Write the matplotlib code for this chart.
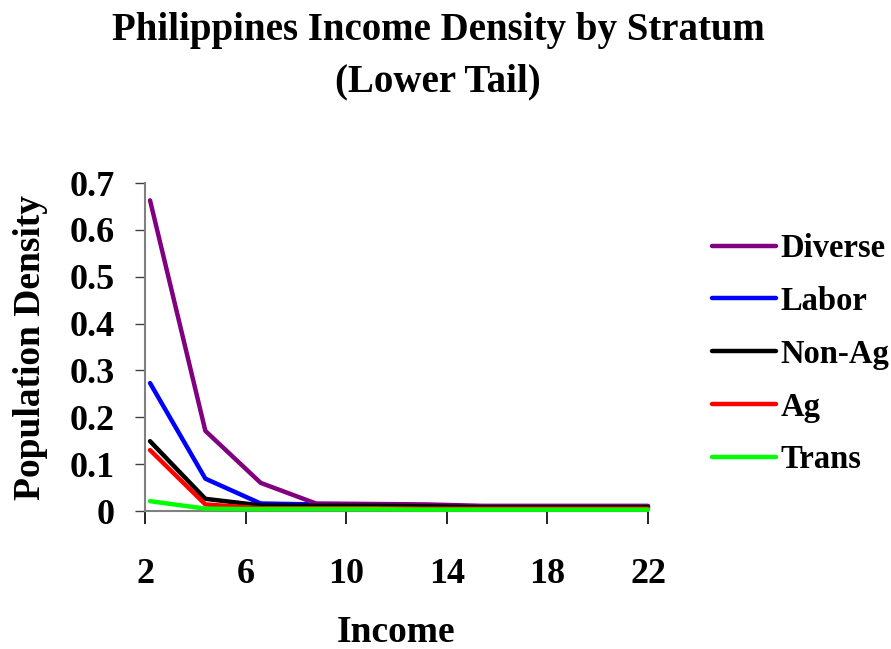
import numpy as np
import matplotlib
matplotlib.use('Agg')
import matplotlib.pyplot as plt

#%% Data

income = [2.2, 4.4, 6.6, 8.8, 11.0, 13.2, 15.4, 17.6, 19.8, 22.0]
diverse = [0.663, 0.171, 0.060, 0.016, 0.015, 0.014, 0.011, 0.011, 0.011, 0.011]
labor = [0.273, 0.069, 0.016, 0.014, 0.014, 0.012, 0.009, 0.009, 0.009, 0.009]
nonag = [0.149, 0.026, 0.012, 0.011, 0.011, 0.010, 0.008, 0.008, 0.008, 0.008]
ag = [0.130, 0.014, 0.006, 0.006, 0.006, 0.005, 0.005, 0.005, 0.005, 0.005]
trans = [0.021, 0.005, 0.004, 0.004, 0.004, 0.003, 0.003, 0.003, 0.003, 0.003]

labels = ['Diverse', 'Labor', 'Non-Ag', 'Ag', 'Trans']
colors = ['#800080', '#0000FF', '#000000', '#FF0000', '#00FF00']
xticks = [2, 6, 10, 14, 18, 22]
yticks = [0, 0.1, 0.2, 0.3, 0.4, 0.5, 0.6, 0.7]

#%% Plot

plt.rcParams['font.family'] = ['Liberation Serif', 'DejaVu Serif']
plt.rcParams['font.weight'] = 'bold'

fig = plt.figure(figsize=(8.91, 6.49), dpi=100)
ax = fig.add_axes([145/891, 1 - 511/649, (648 - 145)/891, (511 - 183)/649])

series = [diverse, labor, nonag, ag, trans]
zorders = [4, 3, 5, 6, 7]
for y, lab, c, z in zip(series, labels, colors, zorders):
    ax.plot(income, y, color=c, linewidth=3.2, label=lab, zorder=z,
            solid_capstyle='round', clip_on=False)

ax.set_xlim(2, 22)
ax.set_ylim(0, 0.7)
ax.set_xticks(xticks)
ax.set_yticks(yticks)
ax.set_yticklabels(['0'] + [f'{v:.1f}' for v in yticks[1:]])

for s in ['top', 'right']:
    ax.spines[s].set_visible(False)
for s in ['left', 'bottom']:
    ax.spines[s].set_color('#808080')
    ax.spines[s].set_linewidth(1.5)

ax.tick_params(axis='y', direction='out', length=7, width=1, color='#404040',
               labelsize=26, pad=15)
ax.tick_params(axis='x', direction='out', length=9, width=1.2, color='black',
               labelsize=26, pad=25)
for t in ax.get_xticklabels() + ax.get_yticklabels():
    t.set_fontweight('bold')

ax.set_xlabel('Income', fontsize=27, fontweight='bold', labelpad=17)
ax.set_ylabel('Population Density', fontsize=27, fontweight='bold', labelpad=15)

fig.text(0.492, 1 - 40/649, 'Philippines Income Density by Stratum',
         ha='center', va='baseline', fontsize=28, fontweight='bold')
fig.text(0.492, 1 - 91/649, '(Lower Tail)',
         ha='center', va='baseline', fontsize=28, fontweight='bold')

leg = ax.legend(loc='upper left', bbox_to_anchor=(712/891, 1 - 233/649),
                bbox_transform=fig.transFigure, frameon=False, fontsize=23.5,
                handlelength=1.95, handletextpad=0.15, labelspacing=0.67,
                borderpad=0, borderaxespad=0)
for t in leg.get_texts():
    t.set_fontweight('bold')

plt.savefig('out.png', dpi=100)
